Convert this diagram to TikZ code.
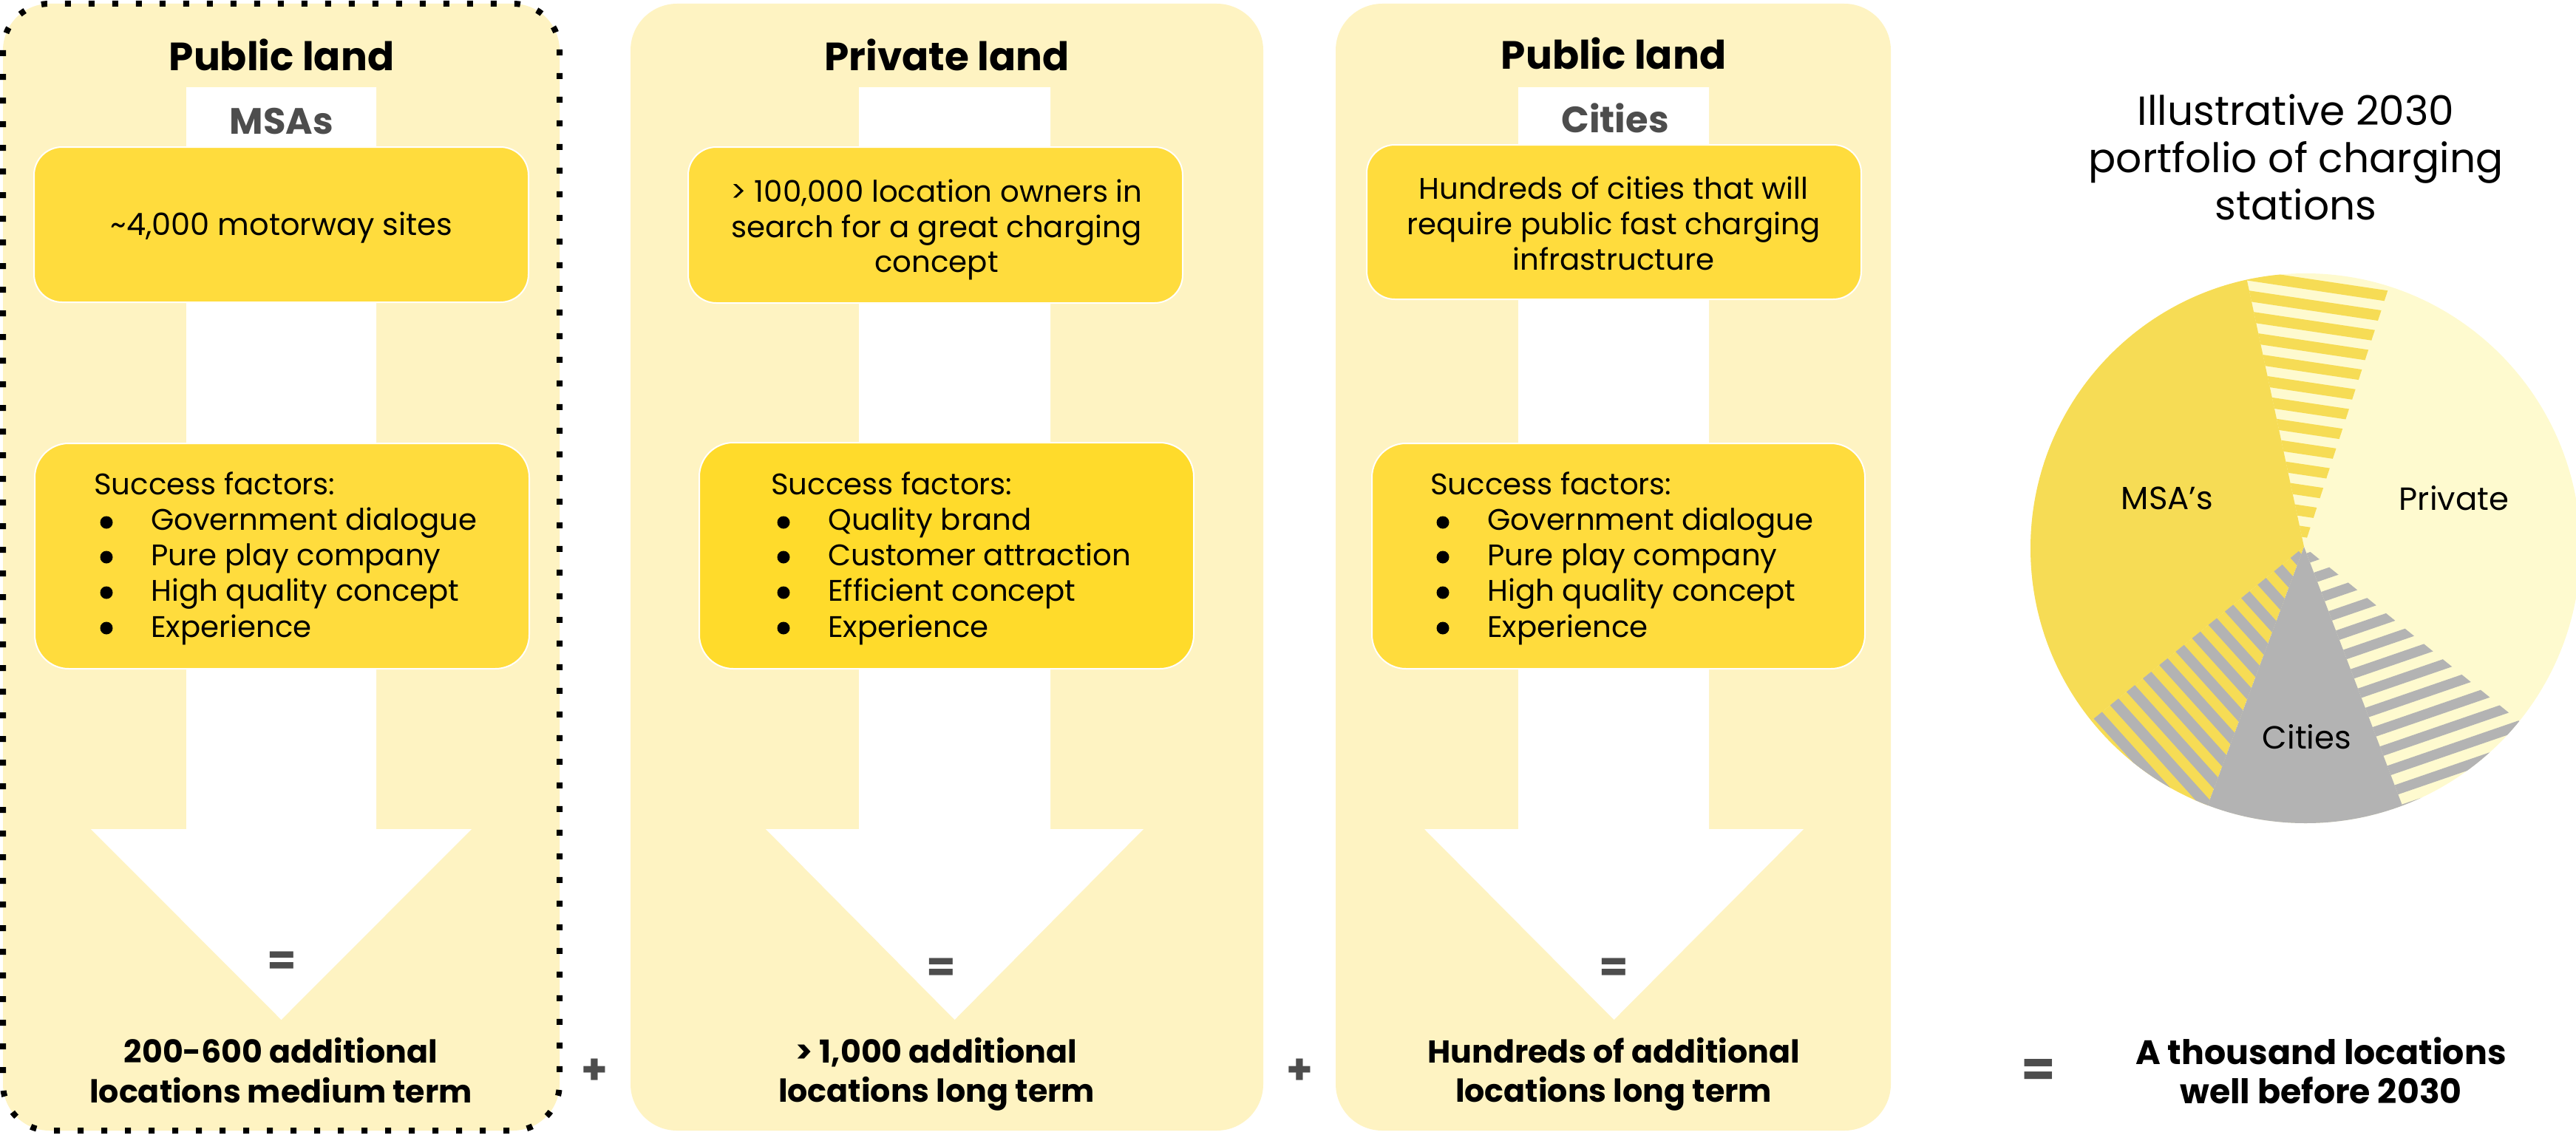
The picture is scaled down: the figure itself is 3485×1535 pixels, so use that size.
\documentclass[tikz,border=0pt]{standalone}
\usepackage{fontspec}
\setmainfont{Poppins}
\usetikzlibrary{calc}
\definecolor{panel}{HTML}{FEF3C2}
\definecolor{boxy}{HTML}{FFDC3D}
\definecolor{boxs}{HTML}{FFDB2B}
\definecolor{greytxt}{HTML}{4D4D4D}
\definecolor{pieY}{HTML}{F6DC55}
\definecolor{pieP}{HTML}{FEFACF}
\definecolor{pieG}{HTML}{B3B3B3}
\newcommand{\fs}[2]{\fontsize{#1}{#2}\selectfont}
\newlength{\unitpx}\setlength{\unitpx}{0.0283465cm}
\tikzset{x=0.0283465cm,y=-0.0283465cm,
 panelbox/.style={fill=panel,draw=none,rounded corners=63\unitpx},
 ybox/.style={fill=boxy,draw=white,line width=2\unitpx,rounded corners=38\unitpx},
 sbox/.style={ybox,rounded corners=46\unitpx},
 boxtxt/.style={align=center,text=black,inner sep=0pt,font=\fs{32.5}{38.6},
   execute at begin node=\rule{0pt}{26pt},execute at end node=\rule[-8pt]{0pt}{8pt}},
 listtxt/.style={text=black,inner sep=0pt,anchor=base west,font=\fs{32.5}{38.6}},
 headtxt/.style={text=black,inner sep=0pt,anchor=base,font=\fs{43}{50}\bfseries},
 subtxt/.style={text=greytxt,inner sep=0pt,anchor=base,font=\fs{40}{46}\bfseries},
 bottxt/.style={align=center,text=black,inner sep=0pt,font=\fs{34.5}{43}\bfseries,
   execute at begin node=\rule{0pt}{28pt},execute at end node=\rule[-9pt]{0pt}{9pt}},
 opsign/.style={text=greytxt,inner sep=0pt,font=\fs{46}{50}\bfseries},
 arrowfill/.style={fill=white,draw=none},
 pielabel/.style={text=black,inner sep=0pt,font=\fs{35}{40}}}
\newcommand{\panelset}[6]{% left, right, shaftL, shaftR, headL, headR
 \path[panelbox] (#1,5) rectangle (#2,1530);
 \path[arrowfill] (#3,118) -- (#4,118) -- (#4,1122) -- (#6,1122) -- ({(#5+#6)/2},1380) -- (#5,1122) -- (#3,1122) -- cycle;
}
\newcommand{\flist}[6]{%
 \node[listtxt] (#1t) at (#2,669) {Success factors:};
 \node[listtxt] (#1a) at (#2+77,717) {#3};
 \node[listtxt] (#1b) at (#2+77,765) {#4};
 \node[listtxt] (#1c) at (#2+77,813) {#5};
 \node[listtxt] (#1d) at (#2+77,862) {#6};
 \foreach \yy in {707,754,802,850}{\fill[black] (#2+17,\yy) circle (8.5);}
}
\begin{document}
\begin{tikzpicture}
\useasboundingbox (0,0) rectangle (3485,1535);
\panelset{4}{757}{252}{509}{123}{638}
\panelset{853}{1709}{1162}{1421}{1036}{1547}
\panelset{1807}{2558}{2054}{2312}{1927}{2440}
\draw[black,line width=8\unitpx,dash pattern=on 8\unitpx off 24\unitpx,rounded corners=63\unitpx] (4,5) rectangle (757,1530);
% headings
\node[headtxt] (h1) at (381,95) {Public land};
\node[headtxt] (h2) at (1281,95) {Private land};
\node[headtxt] (h3) at (2183,93) {Public land};
\node[subtxt] (s1) at (381,181) {MSAs};
\node[subtxt] (s3) at (2185,179) {Cities};
% top boxes
\path[ybox] (46,199) rectangle (715,409);
\node[boxtxt,font=\fs{33.5}{38.6}] (t1) at (381,308) {\textasciitilde4,000 motorway sites};
\path[ybox] (931,199) rectangle (1600,410);
\node[boxtxt] (t2) at (1267,311) {> 100,000 location owners in\\search for a great charging\\concept};
\path[ybox] (1849,196) rectangle (2518,405);
\node[boxtxt] (t3) at (2183,307) {Hundreds of cities that will\\require public fast charging\\infrastructure};
% success boxes
\path[sbox] (47,600) rectangle (716,905);
\path[sbox,fill=boxs] (946,599) rectangle (1615,905);
\path[sbox] (1856,600) rectangle (2523,905);
\flist{fa}{127}{Government dialogue}{Pure play company}{High quality concept}{Experience}
\flist{fb}{1043}{Quality brand}{Customer attraction}{Efficient concept}{Experience}
\flist{fc}{1935}{Government dialogue}{Pure play company}{High quality concept}{Experience}
% equals, plus
\node[opsign] (e1) at (381,1304) {=};
\node[opsign] (e2) at (1273,1313) {=};
\node[opsign] (e3) at (2183,1313) {=};
\node[opsign] (p1) at (804,1450) {+};
\node[opsign] (p2) at (1758,1450) {+};
\node[opsign,font=\fs{54}{60}\bfseries] (e4) at (2758,1452) {=};
% bottoms
\node[bottxt] (b1) at (380,1454) {200-600 additional\\locations medium term};
\node[bottxt] (b2) at (1267,1454) {> 1,000 additional\\locations long term};
\node[bottxt] (b3) at (2183,1454) {Hundreds of additional\\locations long term};
\node[bottxt,font=\fs{37}{43}\bfseries] (b4) at (3140,1454) {A thousand locations\\well before 2030};
\node[align=center,inner sep=0pt,font=\fs{44.4}{51.5}] (title) at (3106,213) {Illustrative 2030\\portfolio of charging\\stations};
% pie
\def\cx{3119}\def\cy{742}\def\R{372}
\coordinate (apex) at (3117,740);
\coordinate (rimA) at (3040,380);
\coordinate (rimB) at (3231,391);
\coordinate (rimC) at (3407,975);
\coordinate (rimD) at (3250,1090);
\coordinate (rimE) at (2987,1089);
\coordinate (rimF) at (2832,973);
\begin{scope}
\clip (0,0) rectangle (3485,1535);
\fill[pieP] (\cx,\cy) circle (\R);
\begin{scope}
 \clip (\cx,\cy) circle (\R);
 % MSA sector
 \fill[pieY] (apex) -- ($(apex)!1.5!(rimA)$) -- (2500,200) -- (2500,1090) -- ($(apex)!1.5!(rimF)$) -- cycle;
 % top stripes
 \begin{scope}
  \clip (apex) -- ($(apex)!1.5!(rimA)$) -- ($(apex)!1.5!(rimB)$) -- cycle;
  \foreach \i in {0,...,16}{
   \fill[pieY,shift={(3045,365.6+\i*28)},rotate=-8.5] (-100,0) rectangle (320,14.5);
  }
 \end{scope}
 % right stripes
 \begin{scope}
  \clip (apex) -- ($(apex)!1.5!(rimC)$) -- ($(apex)!1.5!(rimD)$) -- cycle;
  \foreach \i in {-3,...,14}{
   \fill[pieG,shift={(3380-25.75*\i,955-20.7*\i)},rotate=19] (-500,0) rectangle (100,13.5);
  }
 \end{scope}
 % left stripes
 \begin{scope}
  \clip (apex) -- ($(apex)!1.5!(rimE)$) -- ($(apex)!1.5!(rimF)$) -- cycle;
  \fill[pieY] (apex) -- ($(apex)!1.5!(rimE)$) -- ($(apex)!1.5!(rimF)$) -- cycle;
  \foreach \i in {-1,...,14}{
   \fill[pieG,shift={(2832.5+22.2*\i,972.6-18.1*\i)},rotate=-48] (-50,0) rectangle (600,-14.5);
  }
 \end{scope}
 % cities
 \fill[pieG] (apex) -- ($(apex)!1.5!(rimE)$) -- ($(apex)!1.5!(rimD)$) -- cycle;
\end{scope}
\end{scope}
\node[pielabel] (l1) at (2932,674) {MSA’s};
\node[pielabel] (l2) at (3320,674) {Private};
\node[pielabel] (l3) at (3121,997) {Cities};
\end{tikzpicture}
\end{document}
